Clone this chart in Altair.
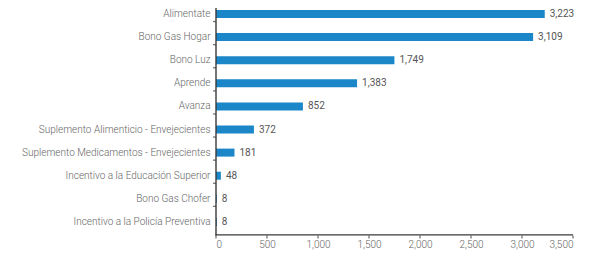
import altair as alt
import pandas as pd

programas = [
    "Alimentate",
    "Bono Gas Hogar",
    "Bono Luz",
    "Aprende",
    "Avanza",
    "Suplemento Alimenticio - Envejecientes",
    "Suplemento Medicamentos - Envejecientes",
    "Incentivo a la Educación Superior",
    "Bono Gas Chofer",
    "Incentivo a la Policía Preventiva",
]
valores = [3223, 3109, 1749, 1383, 852, 372, 181, 48, 8, 8]
x_ticks = [0, 500, 1000, 1500, 2000, 2500, 3000, 3500]

df = pd.DataFrame({"programa": programas, "valor": valores})
df_ticks = pd.DataFrame({"valor": x_ticks})
df_one = pd.DataFrame({"a": [0]})

FONT = "Roboto"
BAR = "#1b87c9"
LINE = "#3a3a3a"

yscale = alt.Scale(paddingInner=0.654, paddingOuter=0.24, align=0.18)
xscale = alt.Scale(domain=[0, 3500])

yaxis = alt.Axis(
    labelFont=FONT,
    labelFontSize=10,
    labelFontWeight=300,
    labelColor="#666666",
    labelPadding=6,
    labelLimit=300,
    domain=False,
    ticks=False,
)
xaxis = alt.Axis(
    values=x_ticks,
    format=",.0f",
    grid=False,
    labelFont=FONT,
    labelFontSize=10,
    labelFontWeight=300,
    labelColor="#666666",
    labelPadding=4,
    domain=False,
    ticks=False,
)

y = alt.Y("programa:N", sort=programas, title=None, scale=yscale, axis=yaxis)
x = alt.X("valor:Q", title=None, scale=xscale, axis=xaxis)

bars = alt.Chart(df).mark_bar(color=BAR).encode(x=x, y=y)

text = alt.Chart(df).mark_text(
    align="left", baseline="middle", dx=5, font=FONT, fontSize=10, color="#555555"
).encode(
    x=x,
    y=y,
    text=alt.Text("valor:Q", format=",.0f"),
)

# x-axis tick marks (filled)
xticks = alt.Chart(df_ticks).mark_tick(
    orient="vertical", color=LINE, size=3, thickness=1.3
).encode(
    x=x,
    y=alt.value(229),
)

# y-axis tick marks at category boundaries (filled)
yticks = alt.Chart(df).mark_tick(
    orient="horizontal", color=LINE, size=3, thickness=1.3
).encode(
    x=alt.value(-1.5),
    y=y,
    yOffset=alt.value(-11.55),
)

# axis lines drawn as filled rects
vline = alt.Chart(df_one).mark_rect(color=LINE).encode(
    x=alt.value(-0.7), x2=alt.value(0.7), y=alt.value(0), y2=alt.value(227.6)
)
hline = alt.Chart(df_one).mark_rect(color=LINE).encode(
    x=alt.value(-0.7), x2=alt.value(357), y=alt.value(226.3), y2=alt.value(227.6)
)

chart = (
    alt.layer(bars, text, xticks, yticks, vline, hline)
    .properties(
        width=357,
        height=227,
        autosize=alt.AutoSizeParams(type="none"),
        padding={"left": 208, "top": 0, "right": 8, "bottom": 15},
        background="white",
    )
    .configure_view(stroke=None)
)

chart.save("out.html", embed_options={"renderer": "svg", "actions": False})
